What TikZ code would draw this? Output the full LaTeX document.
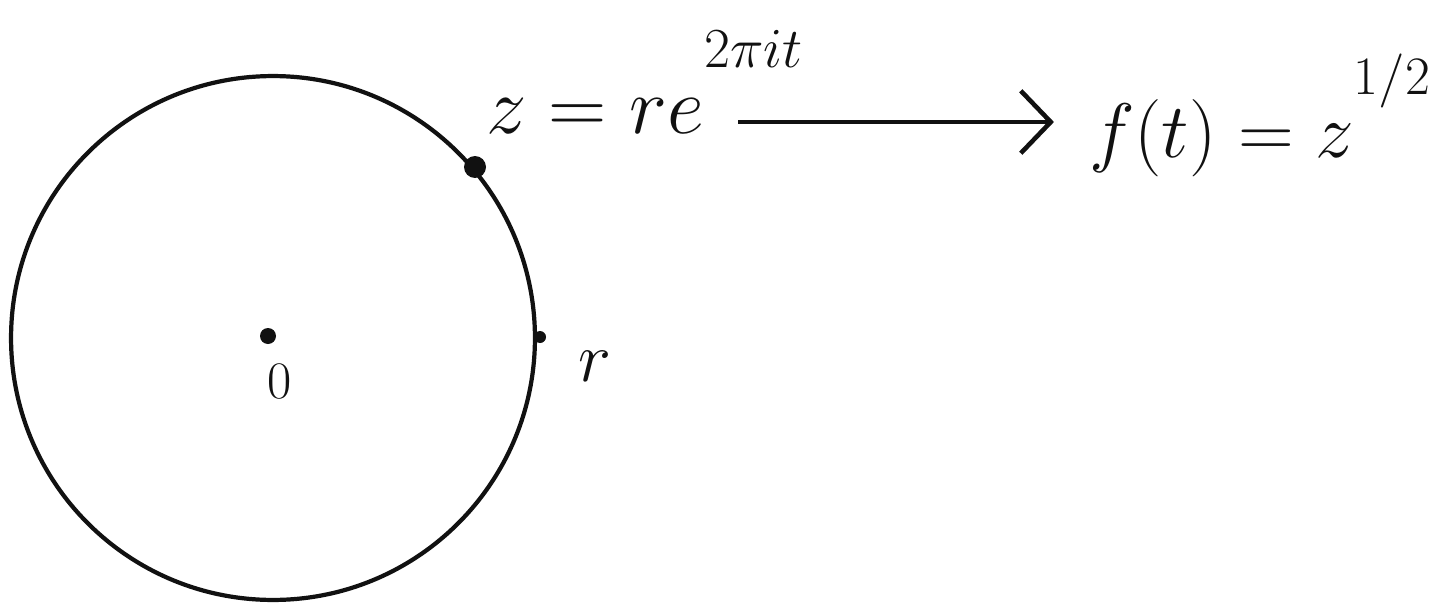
\documentclass[tikz,border=0pt]{standalone}
\usepackage{fix-cm}
\usetikzlibrary{arrows.meta}
\definecolor{cink}{HTML}{111111}
\tikzset{
  every picture/.style={line width=2.4pt, x=0.02cm, y=-0.02cm},
  ring/.style={draw=cink, line width=2.4pt},
  spot/.style={fill=cink, circle, inner sep=0pt, minimum size=#1},
  spot/.default=0.4cm,
  maparrow/.style={-{Straight Barb[length=0.6cm, width=1.25cm]}, draw=cink, line width=2.6pt},
  formula/.style={text=cink, inner sep=0pt, font=\fontsize{46}{55}\selectfont},
  tag/.style={text=cink, inner sep=0pt, font=\fontsize{40}{48}\selectfont},
}
\newcommand{\hiexp}[1]{\raisebox{0.45em}{$\scriptstyle #1$}}

\begin{document}
\begin{tikzpicture}
  \useasboundingbox (0,0) rectangle (1433,605);
  % circle and its points
  \coordinate (O) at (273,338);
  \draw[ring] (O) circle[radius=5.24cm];
  \node[spot=0.32cm] (odot) at (268,336) {};
  \node[spot=0.44cm] (zdot) at (475,167) {};
  \node[spot=0.24cm] (rdot) at (540,337) {};
  \node[tag, font=\fontsize{30}{36}\selectfont] (olab) at (280,382) {$0$};
  \node[tag] (rlab) at (595,366) {$r$};
  % the map
  \node[formula, anchor=base west] (zeq) at (484,133) {$z = re^{\hiexp{2\pi i t}}$};
  \node[formula, font=\fontsize{44}{53}\selectfont, anchor=base east] (flab) at (1433,157) {$f(t) = z^{\hiexp{1/2}}$};
  \coordinate (tail) at (738,122);
  \draw[maparrow, shorten >=0.66cm] (tail) -- (tail -| flab.west);
\end{tikzpicture}
\end{document}
